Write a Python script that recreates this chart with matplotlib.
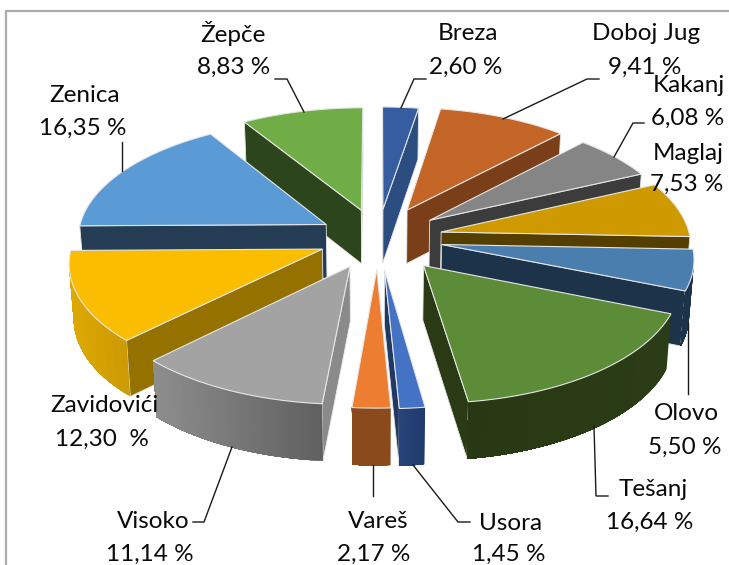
import numpy as np
import matplotlib
matplotlib.use("Agg")
import matplotlib.pyplot as plt
from matplotlib.patches import Polygon

# data
names = ["Breza", "Doboj Jug", "Kakanj", "Maglaj", "Olovo", "Tešanj", "Usora",
         "Vareš", "Visoko", "Zavidovići", "Zenica", "Žepče"]
values = [2.60, 9.41, 6.08, 7.53, 5.50, 16.64, 1.45, 2.17, 11.14, 12.30, 16.35, 8.83]
value_labels = ["2,60 %", "9,41 %", "6,08 %", "7,53 %", "5,50 %", "16,64 %", "1,45 %",
                "2,17 %", "11,14 %", "12,30  %", "16,35 %", "8,83 %"]

# styles
explode = [.25, .27, .26, .26, .26, .29, .265, .26, .26, .24, .24, .25]
top_col = ["#355DA0", "#C36526", "#858585", "#CF9900", "#4A7EAF", "#5C8C38", "#4472C4",
           "#ED7D31", "#A3A3A3", "#FBBD00", "#5B9BD5", "#70AD47"]
side_col = ["#2C4D80", "#7A3F18", "#3C3C3C", "#543E00", "#1D334A", "#2A3A15", "#1F3864",
            "#8A4A1C", "#8A8A8A", "#957200", "#243D54", "#2D451C"]
wall_col = [("#2C4D80", "#2C4D80"), ("#7A3F18", "#7A3F18"), ("#3C3C3C", "#3C3C3C"),
            ("#543E00", "#543E00"), ("#1D334A", "#1D334A"), ("#2B3D16", "#283814"),
            ("#203A6C", "#27457A"), ("#8A4A1C", "#8A4A1C"), ("#606060", "#8E8E8E"),
            ("#CC9A04", "#DEA900"), ("#243D54", "#243D54"), ("#2D451C", "#2D451C")]
draw_order = [11, 0, 1, 2, 3, 4, 5, 10, 9, 8, 6, 7]
label_pos = [((468, 34), (466, 67)), ((646, 34), (645, 67)), ((689, 86), (688, 118)),
             ((688, 153), (687, 184)), ((686, 414), (685, 447)), ((653, 489), (650, 522)),
             ((511, 523), (509, 554)), ((378, 521), (374, 554)), ((153, 522), (150, 554)),
             ((104, 405), (102, 439)), ((85, 96), (83, 128)), ((233, 34), (234, 67))]
leaders = [[(426, 79), (414, 79), (401, 108)], [(599, 79), (587, 79), (503, 119)],
           [(644, 123), (633, 123), (614, 157)], [(688, 394), (688, 323)],
           [(608, 496), (596, 496), (594, 426)], [(470, 522), (458, 522), (413, 465)],
           [(373, 496), (373, 465)], [(193, 522), (204, 522), (232, 447)],
           [(122.5, 142), (122.5, 171)], [(275, 79), (287, 79), (304, 112)]]

CX, CY, A, B, K, H, K2 = 378, 238, 249, 118, 0.10, 54, 0.045

plt.rcParams["font.family"] = ["Lato", "DejaVu Sans"]
fig = plt.figure(figsize=(7.29, 5.65), dpi=100)
ax = fig.add_axes([0, 0, 1, 1])
ax.set_xlim(0, 729)
ax.set_ylim(565, 0)
ax.axis("off")


def proj(X, Y, low=False):
    w = 1 - K * Y
    u = CX + A * X / w
    v = CY + B * Y / w
    if low:
        u = CX + (u - CX) * 0.985
        v = v + H / (1 - K2 * Y)
    return u, v


def area(p):
    p = np.asarray(p)
    x, y = p[:, 0], p[:, 1]
    return 0.5 * np.sum(x * np.roll(y, -1) - np.roll(x, -1) * y)


def mix(c1, c2, t):
    a = np.array(matplotlib.colors.to_rgb(c1))
    b = np.array(matplotlib.colors.to_rgb(c2))
    return tuple(a + (b - a) * t)


# frame
ax.plot([6.5, 6.5, 729], [565, 11, 11], color="#ABABAB", lw=1.6, zorder=1)

cum = np.concatenate([[0], np.cumsum(values)]) / np.sum(values) * 2 * np.pi
z = 2
EDGE = "#E6E6E6"
for i in draw_order:
    t0, t1 = cum[i], cum[i + 1]
    tm = (t0 + t1) / 2
    ox, oy = explode[i] * np.sin(tm), -explode[i] * np.cos(tm)
    ts = np.linspace(t0, t1, 60)
    X = ox + np.sin(ts)
    Y = oy - np.cos(ts)
    top = [proj(a, b) for a, b in zip(X, Y)]
    low = [proj(a, b, True) for a, b in zip(X, Y)]
    tip_t = proj(ox, oy)
    tip_l = proj(ox, oy, True)
    # radial cut faces (outward-facing only)
    f_start = [tip_t, top[0], low[0], tip_l]
    f_end = [tip_t, top[-1], low[-1], tip_l]
    if area(f_start) < 0:
        ax.add_patch(Polygon(f_start, fc=side_col[i], ec=EDGE, lw=0.6, zorder=z)); z += 1
    if area(f_end) > 0:
        ax.add_patch(Polygon(f_end, fc=side_col[i], ec=EDGE, lw=0.6, zorder=z)); z += 1
    # outer wall: each band runs to the end of the wall, so no seams appear
    xs = np.array([p[0] for p in top])
    span = max(xs.max() - xs.min(), 1)
    facing = [j for j in range(len(ts) - 1)
              if area([top[j], top[j + 1], low[j + 1], low[j]]) < 0]
    if facing:
        last = facing[-1] + 1
        for j in facing:
            c = mix(wall_col[i][0], wall_col[i][1], 1 - (xs[j] - xs.min()) / span)
            q = top[j:last + 1] + low[j:last + 1][::-1]
            ax.add_patch(Polygon(q, fc=c, ec="none", zorder=z))
            z += 1
    # top
    ax.add_patch(Polygon([tip_t] + top, fc=top_col[i], ec=EDGE, lw=0.8, zorder=z))
    z += 1

for pts in leaders:
    p = np.array(pts)
    ax.plot(p[:, 0], p[:, 1], color="#1A1A1A", lw=1.0, zorder=z, solid_joinstyle="miter")

for nm, vl, (pn, pv) in zip(names, value_labels, label_pos):
    ax.text(pn[0], pn[1], nm, ha="center", va="center", fontsize=17.5, color="#0A0A0A", zorder=z + 1)
    ax.text(pv[0], pv[1], vl, ha="center", va="center", fontsize=17.5, color="#0A0A0A", zorder=z + 1)

fig.savefig("out.png", dpi=100)
